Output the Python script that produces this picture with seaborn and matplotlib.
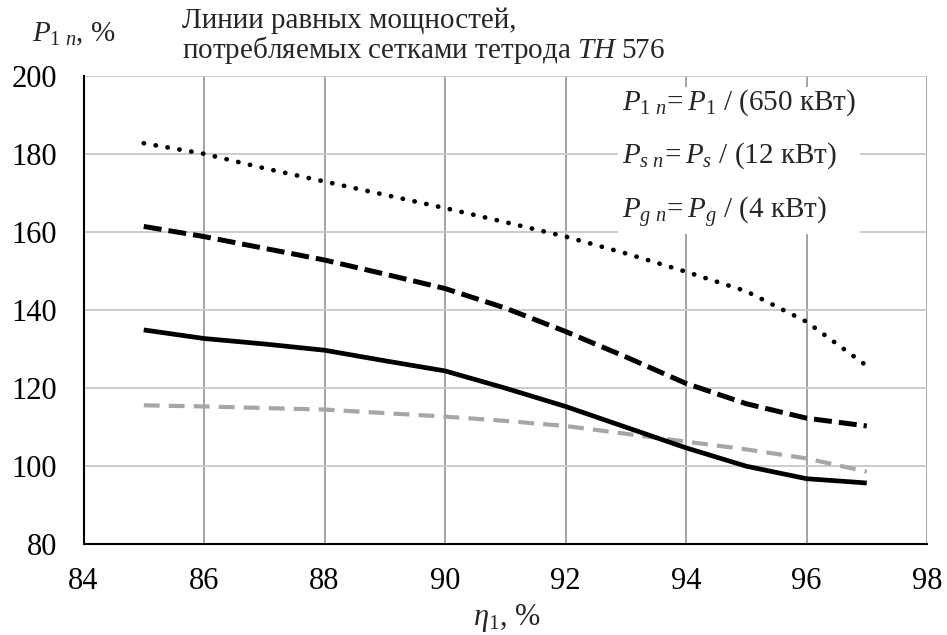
import numpy as np
import pandas as pd
import matplotlib
matplotlib.use("Agg")
import matplotlib.pyplot as plt
import seaborn as sns

# ---- data ----
eta = [85, 86, 87, 88, 89, 90, 91, 92, 93, 94, 95, 96, 97]
curve_dotted = [182.7, 180.0, 176.3, 172.9, 169.5, 166.1, 162.5, 158.8, 154.5, 149.8, 144.8, 137.0, 125.7]
curve_dashed = [161.4, 158.8, 155.8, 152.8, 149.2, 145.5, 140.5, 134.5, 128.0, 121.2, 116.0, 112.3, 110.3]
curve_solid = [134.9, 132.7, 131.3, 129.7, 127.0, 124.4, 120.0, 115.3, 110.0, 104.7, 100.0, 96.8, 95.7]
curve_gray = [115.6, 115.3, 114.9, 114.5, 113.6, 112.7, 111.6, 110.3, 108.3, 106.3, 104.3, 102.0, 98.6]

x_ticks = [84, 86, 88, 90, 92, 94, 96, 98]
y_ticks = [80, 100, 120, 140, 160, 180, 200]

sns.set_theme(style="white")
plt.rcParams["font.family"] = ["Liberation Serif", "DejaVu Serif"]
plt.rcParams["mathtext.fontset"] = "custom"
plt.rcParams["mathtext.rm"] = "Liberation Serif"
plt.rcParams["mathtext.it"] = "Liberation Serif:italic"

fig = plt.figure(figsize=(9.47, 6.35), dpi=100)
W, H = 947, 635
ax = fig.add_axes([83.5 / W, 1 - 544.3 / H, (927 - 83.5) / W, (544.3 - 75.7) / H])

df = pd.DataFrame({"eta": eta, "dotted": curve_dotted, "dashed": curve_dashed,
                   "solid": curve_solid, "gray": curve_gray})

styles = {
    "gray": dict(color="#a6a6a6", lw=3.0, dashes=(3.8, 2.2), cap="butt"),
    "solid": dict(color="black", lw=3.4, dashes=None, cap="round"),
    "dashed": dict(color="black", lw=3.6, dashes=(3.6, 1.4), cap="butt"),
    "dotted": dict(color="black", lw=3.4, dashes=(0.05, 2.5), cap="round"),
}
for name, st in styles.items():
    sns.lineplot(data=df, x="eta", y=name, ax=ax, color=st["color"], lw=st["lw"])
    ln = ax.lines[-1]
    if st["dashes"] is not None:
        ln.set_dashes(st["dashes"])
    ln.set_dash_capstyle(st["cap"])
    ln.set_solid_capstyle("butt")

ax.set_xlim(84, 98)
ax.set_ylim(80, 200)
ax.set_xticks(x_ticks)
ax.set_yticks(y_ticks)
ax.set_xlabel("")
ax.set_ylabel("")

ax.set_axisbelow(True)
ax.yaxis.grid(True, color="#c8c8c8", lw=1.3)
ax.xaxis.grid(True, color="#8a8a8a", lw=1.1)
for s in ["top", "right"]:
    ax.spines[s].set_visible(False)
for s in ["left", "bottom"]:
    ax.spines[s].set_color("black")
    ax.spines[s].set_linewidth(1.5)
ax.tick_params(axis="both", direction="out", length=7, width=1.3, color="black",
               labelsize=22, labelcolor="black")
ax.tick_params(axis="y", pad=12)
ax.tick_params(axis="x", pad=9)

# legend-like annotation box (figure pixel coordinates measured from top-left);
# va='baseline' refers to the last line
fig.text(622 / W, 1 - 219 / H,
         "$P_{1\\ n}\\!=P_1$ / (650 кВт)\n$P_{s\\ n}\\!=P_s$ / (12 кВт)\n$P_{g\\ n}\\!=P_g$ / (4 кВт)",
         fontsize=21, ha="left", va="baseline", linespacing=2.0,
         bbox=dict(facecolor="white", edgecolor="none", pad=3))

# axis labels & title
fig.text(32 / W, 1 - 41 / H, "$P_{1\\ n}$, %", fontsize=21, ha="left", va="baseline")
fig.text(182 / W, 1 - 58 / H,
         "Линии равных мощностей,\nпотребляемых сетками тетрода $TH$ 576",
         fontsize=21, ha="left", va="baseline", linespacing=0.98)
fig.text(507 / W, 1 - 625 / H, "$\\eta_1$, %", fontsize=22, ha="center", va="baseline")

fig.savefig("out.png", dpi=100)
